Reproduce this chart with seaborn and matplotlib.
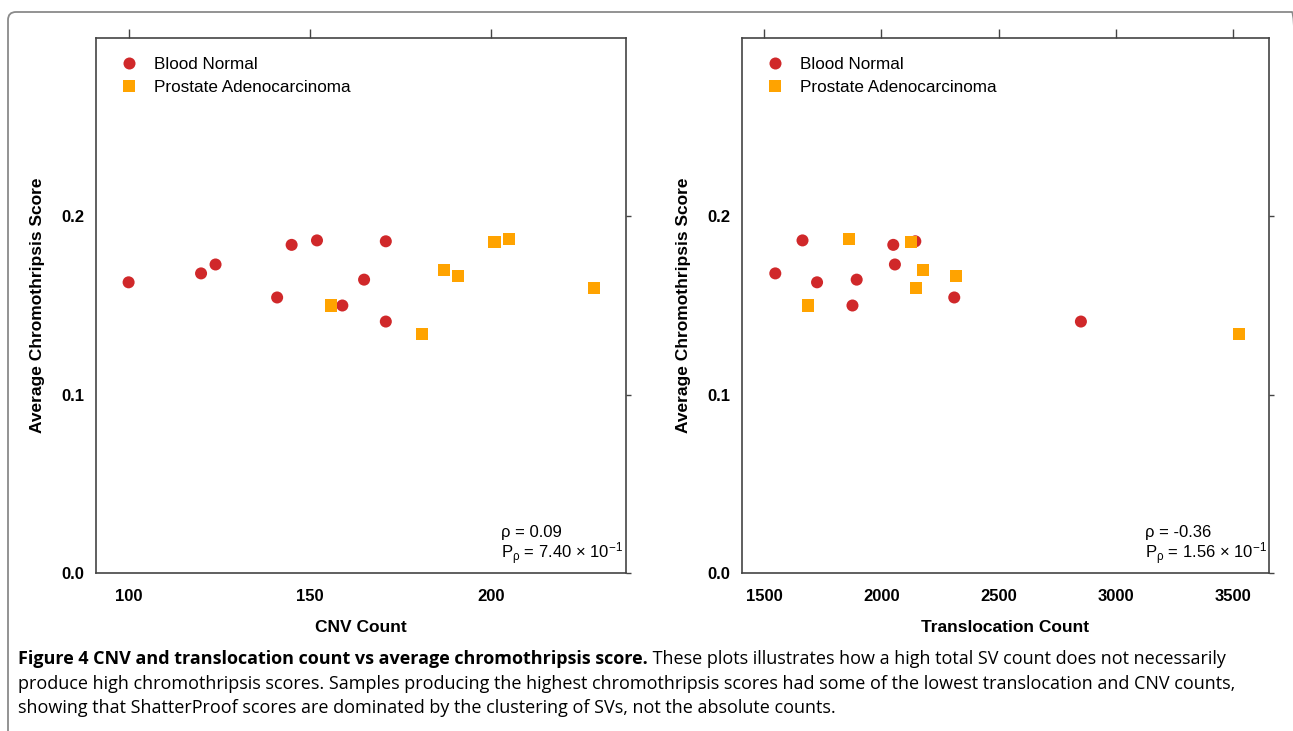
import matplotlib
matplotlib.use("Agg")
import matplotlib.pyplot as plt
import seaborn as sns
import pandas as pd
from matplotlib.patches import FancyBboxPatch

# samples (same order in both panels)
tissue = ["Blood Normal"] * 10 + ["Prostate Adenocarcinoma"] * 7
cnv_count = [100, 120, 124, 145, 152, 171, 141, 159, 165, 171,
             156, 181, 187, 191, 201, 205, 228.6]
translocation_count = [1726, 1548, 2058, 2051, 1664, 2145, 2311, 1877, 1895, 2851,
                       1686, 3526, 2179, 2320, 2127, 1861, 2148]
chromothripsis_score = [0.163, 0.168, 0.173, 0.184, 0.1865, 0.186, 0.1545, 0.150, 0.1645, 0.141,
                        0.150, 0.134, 0.170, 0.1667, 0.1854, 0.1871, 0.160]

rho_text = ["ρ = 0.09", "ρ = -0.36"]
p_text = [r"P$_{\mathrm{ρ}}$ = 7.40 $\times$ 10$^{\mathrm{-1}}$",
          r"P$_{\mathrm{ρ}}$ = 1.56 $\times$ 10$^{\mathrm{-1}}$"]
x_labels = ["CNV Count", "Translocation Count"]
x_ticks = [[100, 150, 200], [1500, 2000, 2500, 3000, 3500]]
y_ticks = [0.0, 0.1, 0.2]

caption_bold = "Figure 4 CNV and translocation count vs average chromothripsis score."
caption_lines = [
    " These plots illustrates how a high total SV count does not necessarily",
    "produce high chromothripsis scores. Samples producing the highest chromothripsis scores had some of the lowest translocation and CNV counts,",
    "showing that ShatterProof scores are dominated by the clustering of SVs, not the absolute counts.",
]

df = pd.DataFrame({
    "tissue": tissue,
    "cnv": cnv_count,
    "translocation": translocation_count,
    "score": chromothripsis_score,
})

sns.set_theme(style="white")
plt.rcParams["font.family"] = ["Liberation Sans", "DejaVu Sans"]
plt.rcParams["text.color"] = "black"
plt.rcParams["axes.labelcolor"] = "black"
plt.rcParams["xtick.color"] = "black"
plt.rcParams["ytick.color"] = "black"
plt.rcParams["mathtext.fontset"] = "custom"
plt.rcParams["mathtext.rm"] = "Liberation Sans"
plt.rcParams["mathtext.it"] = "Liberation Sans:italic"
plt.rcParams["mathtext.bf"] = "Liberation Sans:bold"

palette = {"Blood Normal": "#d0282a", "Prostate Adenocarcinoma": "#ffa300"}
markers = {"Blood Normal": "o", "Prostate Adenocarcinoma": "s"}

W, H = 1293, 731
fig = plt.figure(figsize=(W / 100, H / 100), dpi=100)
ax1 = fig.add_axes([96 / W, 158 / H, 530 / W, 535 / H])
ax2 = fig.add_axes([742 / W, 158 / H, 527 / W, 535 / H])

panels = [(ax1, "cnv", (91, 237.3)), (ax2, "translocation", (1406, 3653))]
for i, (ax, xcol, xlim) in enumerate(panels):
    sns.scatterplot(data=df, x=xcol, y="score", hue="tissue", style="tissue",
                    palette=palette, markers=markers, s=75, linewidth=0, ax=ax)
    ax.set_xlim(*xlim)
    ax.set_ylim(0, 0.3)
    ax.set_xticks(x_ticks[i])
    ax.set_yticks(y_ticks)
    ax.set_yticklabels([f"{v:.1f}" for v in y_ticks])
    ax.tick_params(direction="out", width=1, color="#444444",
                   top=True, right=True, labeltop=False, labelright=False,
                   labelsize=12, labelcolor="black")
    ax.tick_params(axis="x", length=6.2, pad=5.6)
    ax.tick_params(axis="y", length=3.7, pad=4.8)
    plt.setp(ax.get_xticklabels() + ax.get_yticklabels(), fontweight="bold")
    for sp in ax.spines.values():
        sp.set_color("#444444")
        sp.set_linewidth(1.2)
    ax.set_xlabel(x_labels[i], fontsize=12.5, fontweight="bold")
    ax.set_ylabel("Average Chromothripsis Score", fontsize=12.5, fontweight="bold")
    ax.xaxis.set_label_coords(0.5, -47 / 535)
    ax.yaxis.set_label_coords(-51 / 530, 0.5)

    h, l = ax.get_legend_handles_labels()
    ax.legend(h, l, loc="upper left", frameon=False, fontsize=12.3,
              bbox_to_anchor=(0.017, 0.99), borderaxespad=0.3, borderpad=0.5,
              labelspacing=0.45, handletextpad=0.85, handlelength=1.2)

    ax.text(0.765, 41 / 535, rho_text[i], transform=ax.transAxes,
            fontsize=12, ha="left", va="center")
    ax.text(0.765, 19 / 535, p_text[i], transform=ax.transAxes,
            fontsize=12, ha="left", va="center")

# outer frame (rounded, open at bottom)
frame = FancyBboxPatch((8, -30), 1292, H - 12 + 30, boxstyle="round,pad=0,rounding_size=8",
                       transform=None, fill=False, edgecolor="#8a8a8a", linewidth=1.3)
fig.patches.append(frame)

# caption
cap_size = 12.95
cap_font = ["Open Sans", "DejaVu Sans"]
renderer = fig.canvas.get_renderer()
t0 = fig.text(18 / W, 1 - 659 / H, caption_bold, fontsize=cap_size, fontweight="bold",
              family=cap_font, va="center", ha="left")
bb = t0.get_window_extent(renderer)
fig.text(bb.x1 / W, 1 - 659 / H, caption_lines[0], fontsize=cap_size,
         family=cap_font, va="center", ha="left")
fig.text(18 / W, 1 - 684 / H, caption_lines[1], fontsize=cap_size,
         family=cap_font, va="center", ha="left")
fig.text(18 / W, 1 - 708 / H, caption_lines[2], fontsize=cap_size,
         family=cap_font, va="center", ha="left")

fig.savefig("out.png", dpi=100)
